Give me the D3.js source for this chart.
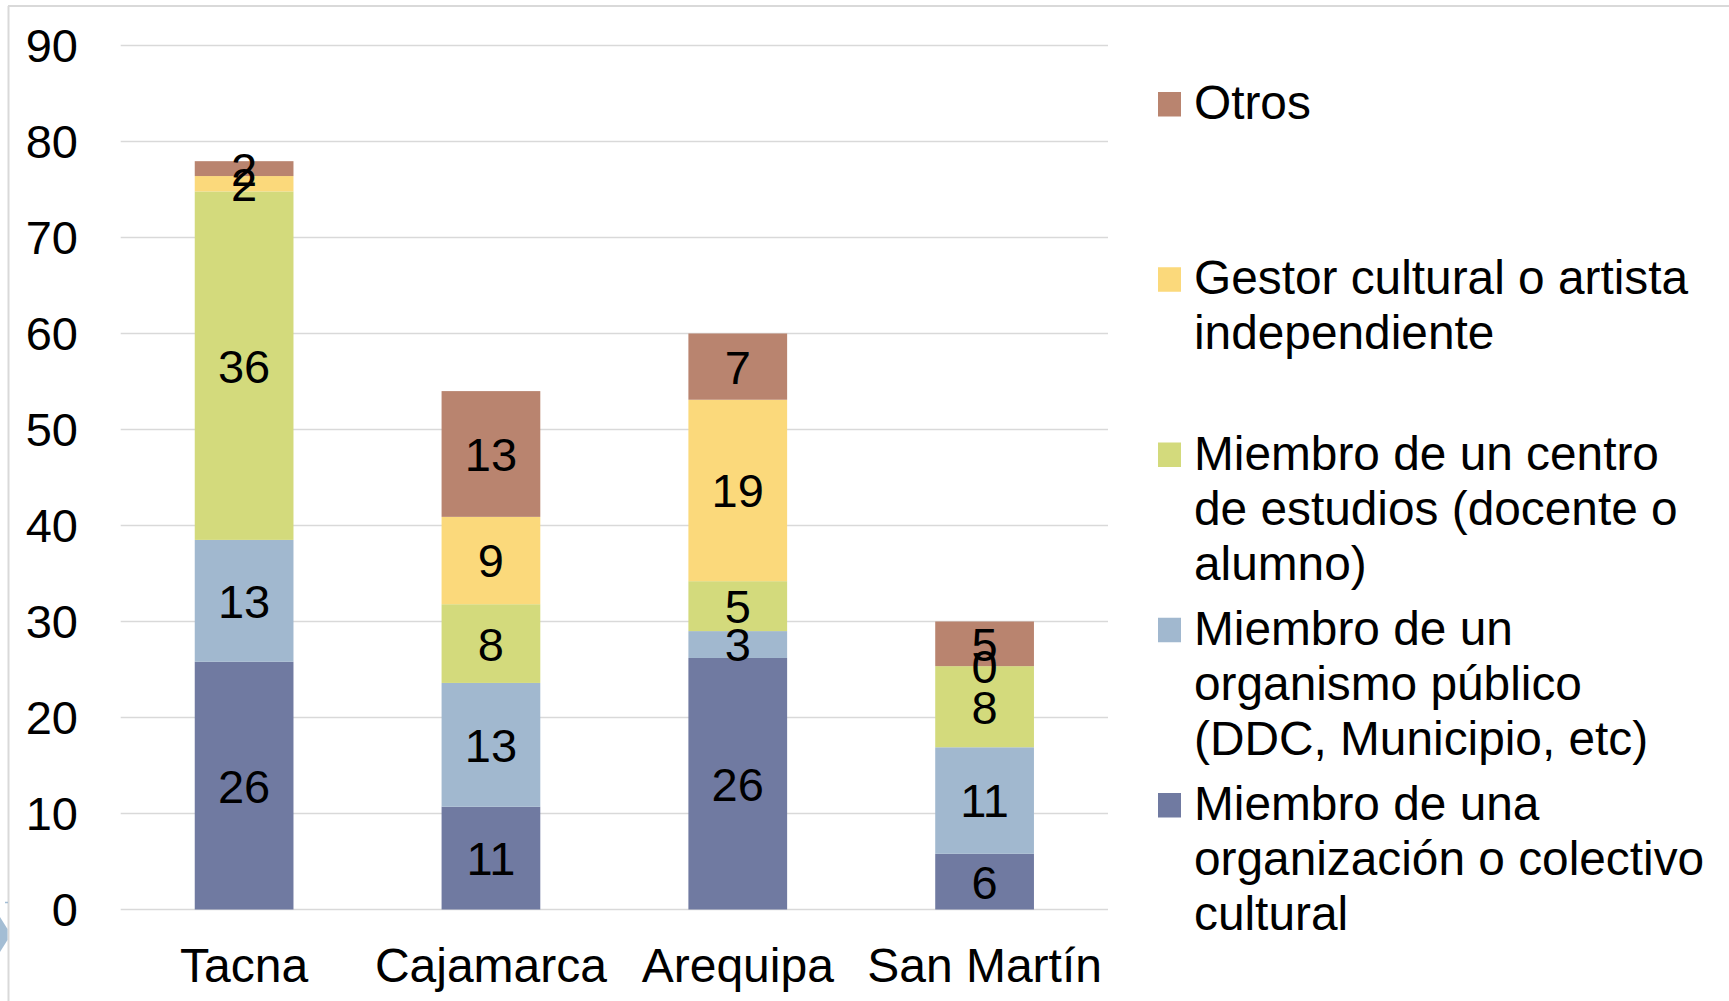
<!DOCTYPE html>
<html>
<head>
<meta charset="utf-8">
<script src="https://cdn.jsdelivr.net/npm/d3@7"></script>
<style>
  html, body { margin: 0; padding: 0; background: #ffffff; }
  svg { display: block; }
  text { font-family: "Liberation Sans", Arial, sans-serif; fill: #000; }
</style>
</head>
<body>
<svg id="chart" width="1729" height="1001"></svg>
<script>
// ---- data ----
const categories = ["Tacna", "Cajamarca", "Arequipa", "San Martín"];
const seriesKeys = ["organizacion", "organismo", "centro", "gestor", "otros"];
const organizacion = [25.8, 10.7, 26.2, 5.8];
const organismo    = [12.7, 12.9, 2.8, 11.1];
const centro       = [36.3, 8.2, 5.2, 8.45];
const gestor       = [1.6, 9.1, 18.9, 0];
const otros        = [1.55, 13.1, 6.9, 4.65];
const yTicks = [0, 10, 20, 30, 40, 50, 60, 70, 80, 90];
const legendOrder = ["otros", "gestor", "centro", "organismo", "organizacion"];
const legendLabels = {
  otros: ["Otros"],
  gestor: ["Gestor cultural o artista", "independiente"],
  centro: ["Miembro de un centro", "de estudios (docente o", "alumno)"],
  organismo: ["Miembro de un", "organismo público", "(DDC, Municipio, etc)"],
  organizacion: ["Miembro de una", "organización o colectivo", "cultural"]
};
const colors = {
  organizacion: "#707aa1",
  organismo: "#a1b8cf",
  centro: "#d3da7c",
  gestor: "#fbd97b",
  otros: "#b9846f"
};

const seriesData = { organizacion, organismo, centro, gestor, otros };
const table = categories.map((c, i) => {
  const row = { category: c };
  seriesKeys.forEach(k => row[k] = seriesData[k][i]);
  return row;
});

const svg = d3.select("#chart");
const fontSize = 47;
const catFontSize = 48;
const legendFontSize = 47.8;

// frame artifacts
svg.append("line").attr("x1", 8.5).attr("x2", 8.5).attr("y1", 6).attr("y2", 1001)
  .attr("stroke", "#d9d9d9").attr("stroke-width", 2);
svg.append("line").attr("x1", 8).attr("x2", 1729).attr("y1", 6).attr("y2", 6)
  .attr("stroke", "#d9d9d9").attr("stroke-width", 2);
svg.append("line").attr("x1", 5).attr("x2", 8).attr("y1", 902.5).attr("y2", 902.5)
  .attr("stroke", "#a3bdd4").attr("stroke-width", 1.5);
svg.append("path").attr("d", "M0,917 L7.5,929 L7.5,940 L0,952 Z").attr("fill", "#a3bdd4");

// scales
const x = d3.scaleBand().domain(categories).range([120.7, 1108])
  .paddingInner(0.6).paddingOuter(0.3);
const y = d3.scaleLinear().domain([0, 90]).range([909.5, 45.5]);

// gridlines
svg.append("g").selectAll("line").data(yTicks).join("line")
  .attr("x1", 120.7).attr("x2", 1108)
  .attr("y1", d => y(d)).attr("y2", d => y(d))
  .attr("stroke", "#d9d9d9").attr("stroke-width", 1.5);

// y tick labels
svg.append("g").selectAll("text").data(yTicks).join("text")
  .attr("x", 78).attr("y", d => y(d)).attr("dy", "0.36em")
  .attr("text-anchor", "end").attr("font-size", fontSize)
  .text(d => d);

// stacked bars
const stack = d3.stack().keys(seriesKeys);
const stacked = stack(table);

const layers = svg.append("g").selectAll("g").data(stacked).join("g")
  .attr("fill", d => colors[d.key]);
layers.selectAll("rect").data(d => d).join("rect")
  .attr("x", d => x(d.data.category))
  .attr("width", x.bandwidth())
  .attr("y", d => y(d[1]))
  .attr("height", d => Math.max(0, y(d[0]) - y(d[1])));

// data labels
const fmt = d3.format(".0f");
const labelG = svg.append("g");
stacked.forEach(layer => {
  labelG.selectAll(null).data(layer).join("text")
    .attr("x", d => x(d.data.category) + x.bandwidth() / 2)
    .attr("y", d => y((d[0] + d[1]) / 2))
    .attr("dy", "0.36em")
    .attr("text-anchor", "middle")
    .attr("font-size", fontSize)
    .text(d => fmt(d[1] - d[0]));
});

// category labels
svg.append("g").selectAll("text").data(categories).join("text")
  .attr("x", d => x(d) + x.bandwidth() / 2)
  .attr("y", 981.5)
  .attr("text-anchor", "middle").attr("font-size", catFontSize)
  .text(d => d);

// legend
const legendX = 1158;
const textX = 1194;
const firstBaseline = 119;
const entryStep = 175.25;
const lineStep = 55;
const legend = svg.append("g");
legendOrder.forEach((key, i) => {
  const base = firstBaseline + i * entryStep;
  const g = legend.append("g");
  g.append("rect").attr("x", legendX).attr("y", base - 27)
    .attr("width", 23).attr("height", 24.5).attr("fill", colors[key]);
  const t = g.append("text").attr("font-size", legendFontSize);
  legendLabels[key].forEach((line, j) => {
    t.append("tspan").attr("x", textX).attr("y", base + j * lineStep).text(line);
  });
});
</script>
</body>
</html>
